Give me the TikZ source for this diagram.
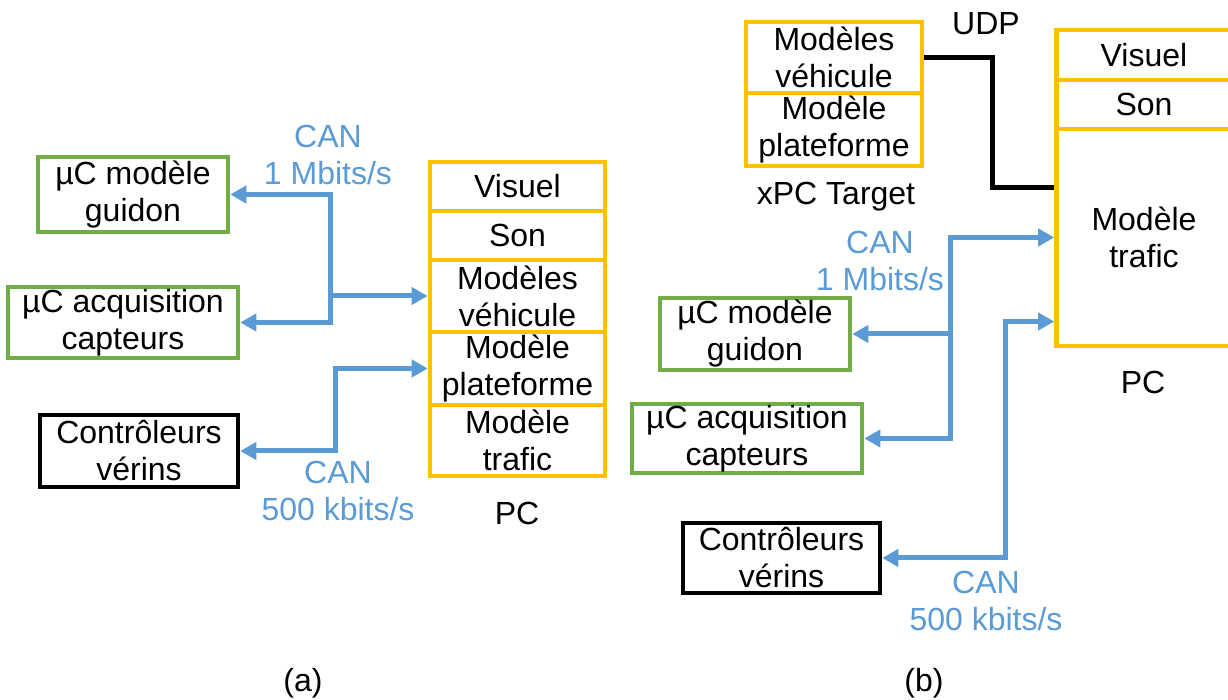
\documentclass[tikz,border=0pt]{standalone}
\usepackage{fontspec}
\setmainfont{Liberation Sans}
\usetikzlibrary{arrows.meta,calc}
\definecolor{canblue}{HTML}{5B9BD5}
\definecolor{pcorange}{HTML}{FFC000}
\definecolor{ucgreen}{HTML}{70AD47}
\begin{document}
\begin{tikzpicture}[x=0.5pt,y=-0.5pt]
\useasboundingbox (0,0) rectangle (1228,700);
%styles des noeuds
\tikzstyle{box}=[rectangle, draw, line width=2.3pt, inner sep=0pt, align=center, font=\fontsize{16}{18.5}\selectfont]
\tikzstyle{pcBox}=[box, draw=pcorange, minimum width=87.5pt]
\tikzstyle{ucBox}=[box, draw=ucgreen]
\tikzstyle{ctrlBox}=[box, draw=black]
\tikzstyle{textw}=[rectangle, text=black, inner sep=0pt, align=center, font=\fontsize{16}{18.5}\selectfont]
\tikzstyle{textCan}=[textw, text=canblue]

%(a)
\node[ucBox, minimum width=95pt, minimum height=37.5pt] (guidonA) at (133,194.5) {µC modèle\\guidon};
\node[ucBox, minimum width=115pt, minimum height=35.5pt] (acqA) at (123,322.5) {µC acquisition\\capteurs};
\node[ctrlBox, minimum width=99pt, minimum height=36pt] (ctrlA) at (139,451) {Contrôleurs\\vérins};

\node[pcBox, minimum height=24.5pt] (visuelA) at (517.5,186.5) {Visuel};
\node[pcBox, minimum height=24.5pt] (sonA) at (517.5,235.5) {Son};
\node[pcBox, minimum height=36pt] (vehA) at (517.5,296) {Modèles\\véhicule};
\node[pcBox, minimum height=36.5pt] (platA) at (517.5,368.5) {Modèle\\plateforme};
\node[pcBox, minimum height=35.5pt] (traficA) at (517.5,440.5) {Modèle\\trafic};
\node[textw] (pcA) at (517,513) {PC};

\node[textCan] (can1A) at (328,155) {CAN\\1 Mbits/s};
\node[textCan] (can2A) at (338,491) {CAN\\500 kbits/s};

%(b)
\node[pcBox, minimum width=88pt, minimum height=35.5pt] (vehB) at (834,57.5) {Modèles\\véhicule};
\node[pcBox, minimum width=88pt, minimum height=36.5pt] (platB) at (834,129.5) {Modèle\\plateforme};
\node[textw] (xpcB) at (836,197) {xPC Target};
\node[textw] (udpB) at (986,24) {UDP};

\node[pcBox, minimum height=25pt] (visuelB) at (1144,55) {Visuel};
\node[pcBox, minimum height=24.5pt] (sonB) at (1144,104.5) {Son};
\node[pcBox, minimum height=108.5pt] (traficB) at (1144,237.5) {Modèle\\trafic};
\node[textw] (pcB) at (1143,382) {PC};

\node[ucBox, minimum width=95pt, minimum height=36pt] (guidonB) at (755,334) {µC modèle\\guidon};
\node[ucBox, minimum width=115pt, minimum height=34.5pt] (acqB) at (747,438.5) {µC acquisition\\capteurs};
\node[ctrlBox, minimum width=98.5pt, minimum height=35pt] (ctrlB) at (781.5,558) {Contrôleurs\\vérins};

\node[textCan] (can1B) at (880,261) {CAN\\1 Mbits/s};
\node[textCan] (can2B) at (986,601) {CAN\\500 kbits/s};

\node[textw] (labelA) at (303,683) {(a)};
\node[textw] (labelB) at (924,683) {(b)};

%liaisons
\tikzstyle{can}=[-{Triangle[length=8pt,width=8.5pt]}, line width=2.5pt, draw=canblue]
\tikzstyle{canBoth}=[{Triangle[length=8pt,width=8.5pt]}-{Triangle[length=8pt,width=8.5pt]}, line width=2.5pt, draw=canblue]
\tikzstyle{udp}=[line width=2.5pt, draw=black]
\coordinate (busA) at (330,296);
\draw[can] (busA) -- (vehA.west);
\draw[can] (busA) |- (guidonA.east);
\draw[can] (busA) |- (acqA.east);
\draw[canBoth] (ctrlA.east) -- ++(95,0) |- (platA.west);

\coordinate (busB) at (950,334);
\draw[can] (busB) |- (traficB.west);
\draw[can] (busB) -- (guidonB.east);
\draw[can] (busB) |- (acqB.east);
\draw[canBoth] (ctrlB.east) -- ++(123,0) |- ($(traficB.west)+(0,84)$);
\draw[udp] (vehB.east) -- ++(68,0) |- ($(traficB.west)+(0,-50)$);
\end{tikzpicture}
\end{document}
